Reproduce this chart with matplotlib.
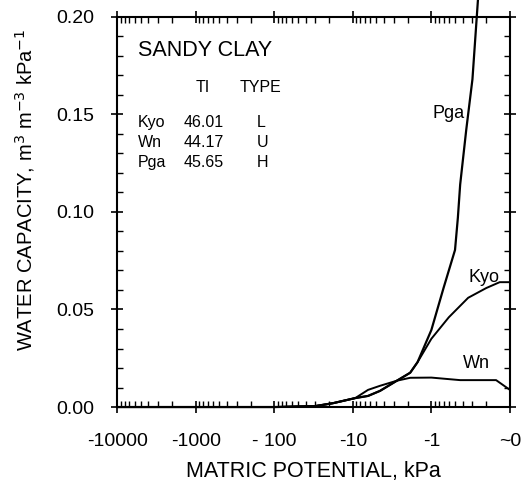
import numpy as np
import matplotlib.pyplot as plt
from matplotlib.ticker import MultipleLocator, FixedLocator, LogLocator, NullFormatter

plt.rcParams['font.family'] = ['Liberation Sans', 'DejaVu Sans']

# matric potential magnitude, kPa (plotted as negative values, log spaced)
psi_kyo = [10000, 1000, 100, 30, 17.8, 9.3, 6.4, 4.5, 2.75, 1.86, 1.5, 1.0, 0.6, 0.34, 0.2, 0.135, 0.1]
cap_kyo = [0, 0, 0, 0.0005, 0.002, 0.0046, 0.0057, 0.0083, 0.0135, 0.0176, 0.023, 0.035, 0.046, 0.056, 0.061, 0.064, 0.064]

psi_wn = [10000, 1000, 100, 30, 17.8, 9.3, 6.4, 4.5, 2.75, 1.86, 1.0, 0.43, 0.15, 0.1]
cap_wn = [0, 0, 0, 0.0005, 0.002, 0.0046, 0.0088, 0.0109, 0.0135, 0.0150, 0.0151, 0.0138, 0.0138, 0.0088]

psi_pga = [10000, 1000, 100, 30, 17.8, 9.3, 6.4, 4.5, 2.75, 1.86, 1.5, 1.0, 0.7, 0.5, 0.46, 0.43, 0.36, 0.30, 0.255]
cap_pga = [0, 0, 0, 0.0005, 0.002, 0.0046, 0.0057, 0.0083, 0.0135, 0.0176, 0.023, 0.0395, 0.061, 0.0805, 0.097, 0.114, 0.142, 0.168, 0.209]

x_ticks = [10000, 1000, 100, 10, 1, 0.1]
x_labels = ['-10000', '-1000', '- 100', '-10', '-1', '~0']

names = ['Kyo', 'Wn', 'Pga']
ti = ['46.01', '44.17', '45.65']
types = ['L', 'U', 'H']

fig = plt.figure(figsize=(5.23, 4.94), dpi=100)
ax = fig.add_axes([0.224, 0.176, 0.751, 0.790])

ax.plot(psi_kyo, cap_kyo, color='black', lw=1.4)
ax.plot(psi_wn, cap_wn, color='black', lw=1.4)
ax.plot(psi_pga, cap_pga, color='black', lw=1.6, clip_on=False)

ax.set_xscale('log')
ax.set_xlim(10000, 0.1)
ax.set_ylim(0, 0.20)

ax.xaxis.set_major_locator(FixedLocator(x_ticks))
ax.set_xticklabels(x_labels)
ax.xaxis.set_minor_locator(LogLocator(base=10, subs=np.arange(2, 10)))
ax.xaxis.set_minor_formatter(NullFormatter())
ax.yaxis.set_major_locator(MultipleLocator(0.05))
ax.yaxis.set_minor_locator(MultipleLocator(0.01))
ax.yaxis.set_major_formatter(plt.FuncFormatter(lambda v, p: f'{v:.2f}'))

ax.tick_params(which='major', direction='inout', length=9, width=1.2,
               labelsize=14, top=True, right=True)
ax.tick_params(which='minor', direction='in', length=4, width=1, top=True, right=True)
ax.tick_params(axis='x', which='major', pad=14)
ax.tick_params(axis='y', which='major', pad=12)
for s in ax.spines.values():
    s.set_linewidth(1.5)

ax.set_xlabel('MATRIC POTENTIAL, kPa', fontsize=15.5)
ax.set_ylabel('WATER CAPACITY, m$^3$ m$^{-3}$ kPa$^{-1}$', fontsize=14.5)
ax.xaxis.set_label_coords(0.5, -0.138)
ax.yaxis.set_label_coords(-0.204, 0.556)

# annotations
ax.text(0.052, 0.9, 'SANDY CLAY', transform=ax.transAxes, fontsize=15.5)
ax.text(0.2, 0.808, 'TI', transform=ax.transAxes, fontsize=11.5)
ax.text(0.312, 0.808, 'TYPE', transform=ax.transAxes, fontsize=11.5)
for i in range(3):
    yy = 0.718 - i * 0.051
    ax.text(0.052, yy, names[i], transform=ax.transAxes, fontsize=11.5)
    ax.text(0.168, yy, ti[i], transform=ax.transAxes, fontsize=11.5)
    ax.text(0.355, yy, types[i], transform=ax.transAxes, fontsize=11.5)

ax.text(0.98, 0.148, 'Pga', fontsize=13)
ax.text(0.34, 0.064, 'Kyo', fontsize=13)
ax.text(0.40, 0.020, 'Wn', fontsize=13)

fig.savefig('out.png', dpi=100)
